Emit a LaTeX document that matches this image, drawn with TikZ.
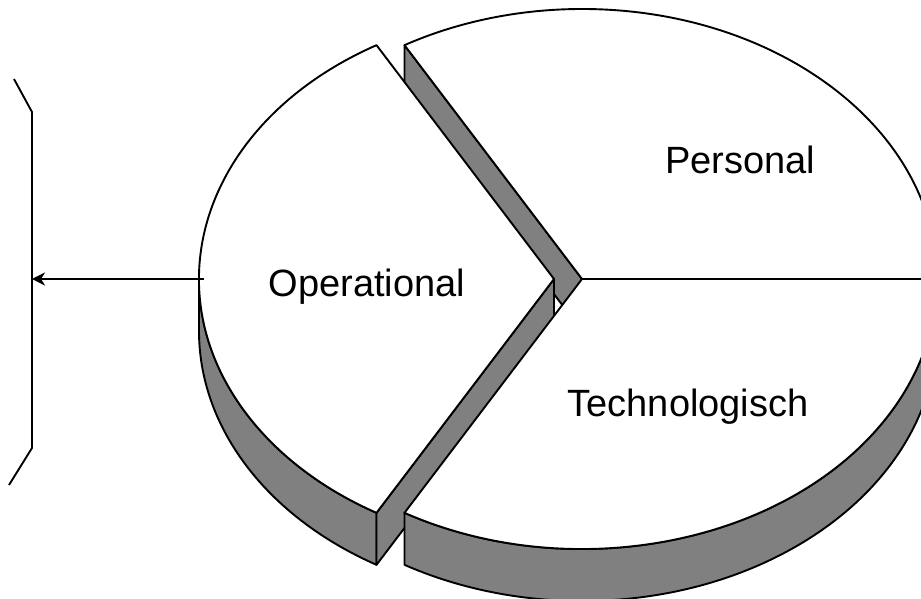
\documentclass[tikz,border=0pt]{standalone}
\usepackage{fontspec}
\setmainfont{Liberation Sans}
\usetikzlibrary{arrows.meta,calc}
\definecolor{wallgrey}{HTML}{808080}
\begin{document}
\begin{tikzpicture}[x=1pt,y=1pt,
  outline/.style={draw=black,line width=1.9pt,line join=round},
  wall/.style={outline,fill=wallgrey},
  topface/.style={outline,fill=white},
  label/.style={font=\fontsize{38}{40}\selectfont,anchor=base,inner sep=0pt},
  bracket/.style={draw=black,line width=1.9pt},
  pointer/.style={draw=black,line width=1.7pt,-{Stealth[length=13pt,width=13pt,inset=4pt]}}
]
\useasboundingbox (0,0) rectangle (921,599);
\clip (0,0) rectangle (921,599);
\def\rx{355}\def\ry{270}\def\dep{52}
% centres
\coordinate (M) at (582,320);   % main pie apex
\coordinate (O) at (554,320);   % exploded slice apex
\coordinate (Mb) at ($(M)+(0,-\dep)$);
\coordinate (Ob) at ($(O)+(0,-\dep)$);
\coordinate (P120) at ($(M)+({\rx*cos(120)},{\ry*sin(120)})$);
\coordinate (P0) at ($(M)+(\rx,0)$);
\coordinate (T240) at ($(M)+({\rx*cos(240)},{\ry*sin(240)})$);
\coordinate (O120) at ($(O)+({\rx*cos(120)},{\ry*sin(120)})$);
\coordinate (O180) at ($(O)+(-\rx,0)$);
\coordinate (O240) at ($(O)+({\rx*cos(240)},{\ry*sin(240)})$);
% ---- side walls (behind all top faces)
\path[wall] (P120) -- (M) -- (Mb) -- ($(P120)+(0,-\dep)$) -- cycle;
\path[wall] (O180) arc[start angle=180,end angle=240,x radius=\rx,y radius=\ry]
  -- ($(O240)+(0,-\dep)$) arc[start angle=240,end angle=180,x radius=\rx,y radius=\ry] -- cycle;
\path[wall] (O) -- (O240) -- ($(O240)+(0,-\dep)$) -- (Ob) -- cycle;
\path[wall] (T240) arc[start angle=240,end angle=360,x radius=\rx,y radius=\ry]
  -- ++(0,-\dep) arc[start angle=360,end angle=240,x radius=\rx,y radius=\ry] -- cycle;
% ---- top faces
\path[topface] (M) -- (P0) arc[start angle=0,end angle=120,x radius=\rx,y radius=\ry] -- cycle;
\path[topface] (M) -- (T240) arc[start angle=240,end angle=360,x radius=\rx,y radius=\ry] -- cycle;
\path[topface] (O) -- (O120) arc[start angle=120,end angle=240,x radius=\rx,y radius=\ry] -- cycle;
% ---- labels
\node[label] (personal) at (740,425) {Personal};
\node[label] (operational) at (367,302) {Operational};
\node[label] (techno) at (688,182) {Technologisch};
% ---- bracket and arrow
\coordinate (b1) at (14,520);
\coordinate (b2) at (32,487);
\coordinate (bmid) at (32,320);
\coordinate (b3) at (32,151);
\coordinate (b4) at (9,114);
\draw[bracket] (b1) -- (b2) -- (b3) -- (b4);
\coordinate (astart) at (204,320);
\draw[pointer] (astart) -- (bmid);
\end{tikzpicture}
\end{document}
